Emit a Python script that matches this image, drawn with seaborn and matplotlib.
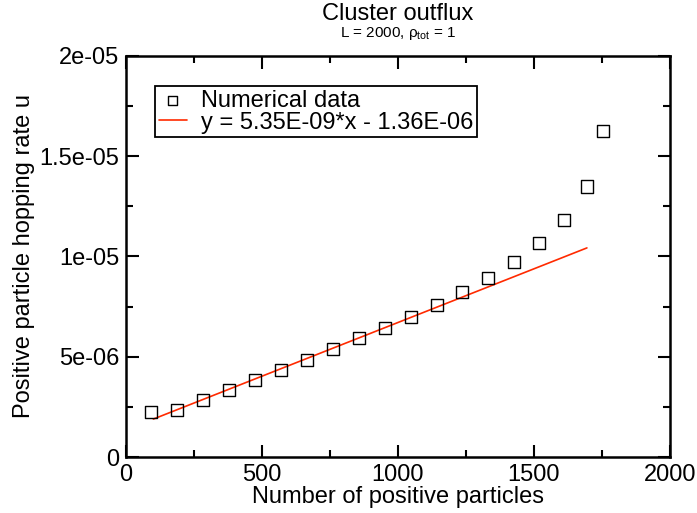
import matplotlib
matplotlib.use("Agg")
import numpy as np
import pandas as pd
import matplotlib.pyplot as plt
import seaborn as sns
from matplotlib.ticker import MultipleLocator, FuncFormatter

# data
n_pos = [91, 187, 283, 379, 474, 570, 665, 761, 857, 952,
         1048, 1143, 1237, 1332, 1426, 1519, 1609, 1694, 1754]
rate = [2.24e-6, 2.36e-6, 2.86e-6, 3.34e-6, 3.84e-6, 4.34e-6, 4.84e-6, 5.39e-6, 5.92e-6, 6.43e-6,
        6.99e-6, 7.58e-6, 8.21e-6, 8.91e-6, 9.75e-6, 1.069e-5, 1.184e-5, 1.349e-5, 1.627e-5]

fit_slope = 5.35e-09
fit_intercept = 1.36e-06
fit_x = [100, 1695]
fit_label = "y = 5.35E-09*x - 1.36E-06"

y_ticklabels = {0: "0", 5e-06: "5e-06", 1e-05: "1e-05", 1.5e-05: "1.5e-05", 2e-05: "2e-05"}

sns.set_style("ticks")
plt.rcParams['font.family'] = ['Liberation Sans', 'DejaVu Sans']
plt.rcParams['mathtext.fontset'] = 'custom'
plt.rcParams['mathtext.rm'] = 'Liberation Sans'
plt.rcParams['mathtext.it'] = 'Liberation Sans'
plt.rcParams['text.color'] = 'black'
plt.rcParams['axes.labelcolor'] = 'black'

df = pd.DataFrame({"x": n_pos, "y": rate})
df_fit = pd.DataFrame({"x": fit_x, "y": [fit_slope * v + fit_intercept for v in fit_x]})

fig = plt.figure(figsize=(6.97, 5.13), dpi=100)
ax = fig.add_axes([0.181, 0.109, 0.780, 0.782])

sns.scatterplot(data=df, x="x", y="y", ax=ax, marker="s", s=75,
                facecolor="none", edgecolor="black", linewidth=1.0,
                label="Numerical data", zorder=3)
sns.lineplot(data=df_fit, x="x", y="y", ax=ax, color="#ff2a00", linewidth=1.2,
             label=fit_label, zorder=2)

ax.set_xlim(0, 2000)
ax.set_ylim(0, 2e-05)
ax.xaxis.set_major_locator(MultipleLocator(500))
ax.xaxis.set_minor_locator(MultipleLocator(250))
ax.yaxis.set_major_locator(MultipleLocator(5e-06))
ax.yaxis.set_minor_locator(MultipleLocator(2.5e-06))
ax.yaxis.set_major_formatter(FuncFormatter(
    lambda v, p: y_ticklabels.get(round(v, 12), "")))

ax.tick_params(which="both", direction="in", top=True, right=True,
               labelsize=17, width=1.5, colors="black")
ax.tick_params(which="major", length=9, pad=5)
ax.tick_params(which="minor", length=5)
for sp in ax.spines.values():
    sp.set_linewidth(1.8)
    sp.set_color("black")

ax.set_xlabel("Number of positive particles", fontsize=17, labelpad=0)
ax.set_ylabel("Positive particle hopping rate u", fontsize=17, labelpad=3)

ax.text(0.5, 1.105, "Cluster outflux", transform=ax.transAxes,
        ha="center", va="center", fontsize=17)
ax.text(0.5, 1.055, r"L = 2000, $\rho_{\mathrm{tot}}$ = 1", transform=ax.transAxes,
        ha="center", va="center", fontsize=11)

leg = ax.legend(loc="upper left", bbox_to_anchor=(0.053, 0.925), borderaxespad=0,
                fontsize=17, frameon=True, fancybox=False, handlelength=1.2,
                handletextpad=0.6, borderpad=0.15, labelspacing=0.0, markerscale=0.75)
leg.get_frame().set_edgecolor("black")
leg.get_frame().set_linewidth(1.3)
leg.get_frame().set_alpha(1)

fig.savefig("out.png", dpi=100)
